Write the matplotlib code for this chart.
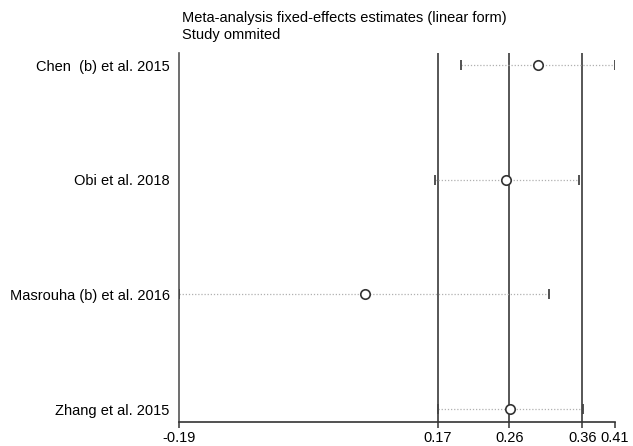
import matplotlib
matplotlib.use("Agg")
import matplotlib.pyplot as plt

# data
studies = ["Chen  (b) et al. 2015", "Obi et al. 2018", "Masrouha (b) et al. 2016", "Zhang et al. 2015"]
estimate = [0.304, 0.261, 0.066, 0.266]
lower_ci = [0.199, 0.162, -0.19, 0.166]
upper_ci = [0.41, 0.361, 0.320, 0.367]

# overall estimate and CI (vertical lines)
overall = [0.1663, 0.265, 0.3656]

tick_vals = [-0.19, 0.1663, 0.265, 0.3656, 0.41]
tick_labels = ["-0.19", "0.17", "0.26", "0.36", "0.41"]

plt.rcParams["font.family"] = ["Liberation Sans", "DejaVu Sans"]
fs = 10.5

fig = plt.figure(figsize=(6.33, 4.46), dpi=100)
ax = fig.add_axes([179.3 / 633, 24.3 / 446, 435.2 / 633, 369 / 446])

ypos = list(range(1, len(studies) + 1))

for v in overall:
    ax.axvline(v, color="#3a3a3a", lw=1.2, zorder=1)

for y, lo, est, hi in zip(ypos, lower_ci, estimate, upper_ci):
    ax.plot([lo, hi], [y, y], color="#b0b0b0", lw=0.9, ls=(0, (1, 1.5)), zorder=2)
    ax.plot([lo, hi], [y, y], ls="none", marker="|", ms=6.5, mew=1.3, color="#444444", zorder=3)
    ax.plot(est, y, ls="none", marker="o", ms=6.8, mfc="white", mec="#333333", mew=1.2, zorder=4)

ax.set_xlim(-0.19, 0.41)
ax.set_ylim(4.11, 0.89)
ax.set_yticks(ypos)
ax.set_yticklabels(studies, fontsize=fs)
ax.tick_params(axis="y", length=0, pad=7)
ax.set_xticks(tick_vals)
ax.set_xticklabels(tick_labels, fontsize=fs)
ax.tick_params(axis="x", length=4, width=1.1, color="#333333", pad=3)

ax.spines["top"].set_visible(False)
ax.spines["right"].set_visible(False)
ax.spines["left"].set_color("#555555")
ax.spines["left"].set_linewidth(1.2)
ax.spines["bottom"].set_color("#333333")
ax.spines["bottom"].set_linewidth(1.2)

fig.text(182 / 633, 1 - 18 / 446, "Meta-analysis fixed-effects estimates (linear form)",
         fontsize=fs, va="center", ha="left")
fig.text(182 / 633, 1 - 35 / 446, "Study ommited", fontsize=fs, va="center", ha="left")

fig.savefig("out.png", dpi=100)
